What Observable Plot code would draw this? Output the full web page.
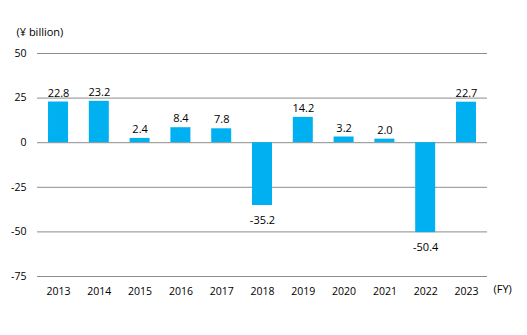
<!DOCTYPE html>
<html><head><meta charset="utf-8">
<script src="https://cdn.jsdelivr.net/npm/d3@7"></script>
<script src="https://cdn.jsdelivr.net/npm/@observablehq/plot@0.6"></script>
<style>body{margin:0;background:#fff}</style>
</head><body><div id="chart"></div>
<script>
const years = ["2013","2014","2015","2016","2017","2018","2019","2020","2021","2022","2023"];
const values = [22.8, 23.2, 2.4, 8.4, 7.8, -35.2, 14.2, 3.2, 2.0, -50.4, 22.7];
const yTicks = [50, 25, 0, -25, -50, -75];
const unitLabel = "(¥ billion)";
const fyLabel = "(FY)";

const data = years.map((y, i) => ({year: y, value: values[i]}));
const pos = data.filter(d => d.value >= 0);
const neg = data.filter(d => d.value < 0);

const chart = Plot.plot({
  width: 527, height: 335,
  marginTop: 53, marginBottom: 59, marginLeft: 37, marginRight: 40,
  style: {fontFamily: "'Open Sans', sans-serif", fontSize: "10.5px", color: "#000"},
  x: {domain: years, paddingInner: 0.51, paddingOuter: 0.27, round: false, label: null, tickSize: 0, tickPadding: 11},
  y: {domain: [-75, 50], ticks: yTicks, label: null, tickSize: 0, tickPadding: 11, tickFormat: d => String(d).replace("−","-")},
  marks: [
    Plot.ruleY(yTicks, {stroke: "#8c8c8c", strokeWidth: 1}),
    Plot.barY(data, {x: "year", y: "value", fill: "#00b0f0"}),
    Plot.text(pos, {x: "year", y: "value", text: d => d.value.toFixed(1), dy: -9, fontSize: 11}),
    Plot.text(neg, {x: "year", y: "value", text: d => d.value.toFixed(1), dy: 15, fontSize: 11}),
    Plot.text([unitLabel], {frameAnchor: "top-left", dx: -21, dy: -25, textAnchor: "start", fontSize: 11}),
    Plot.text([fyLabel], {frameAnchor: "bottom-right", dx: 6, dy: 16, textAnchor: "start", fontSize: 11})
  ]
});
document.getElementById("chart").appendChild(chart);
</script></body></html>
